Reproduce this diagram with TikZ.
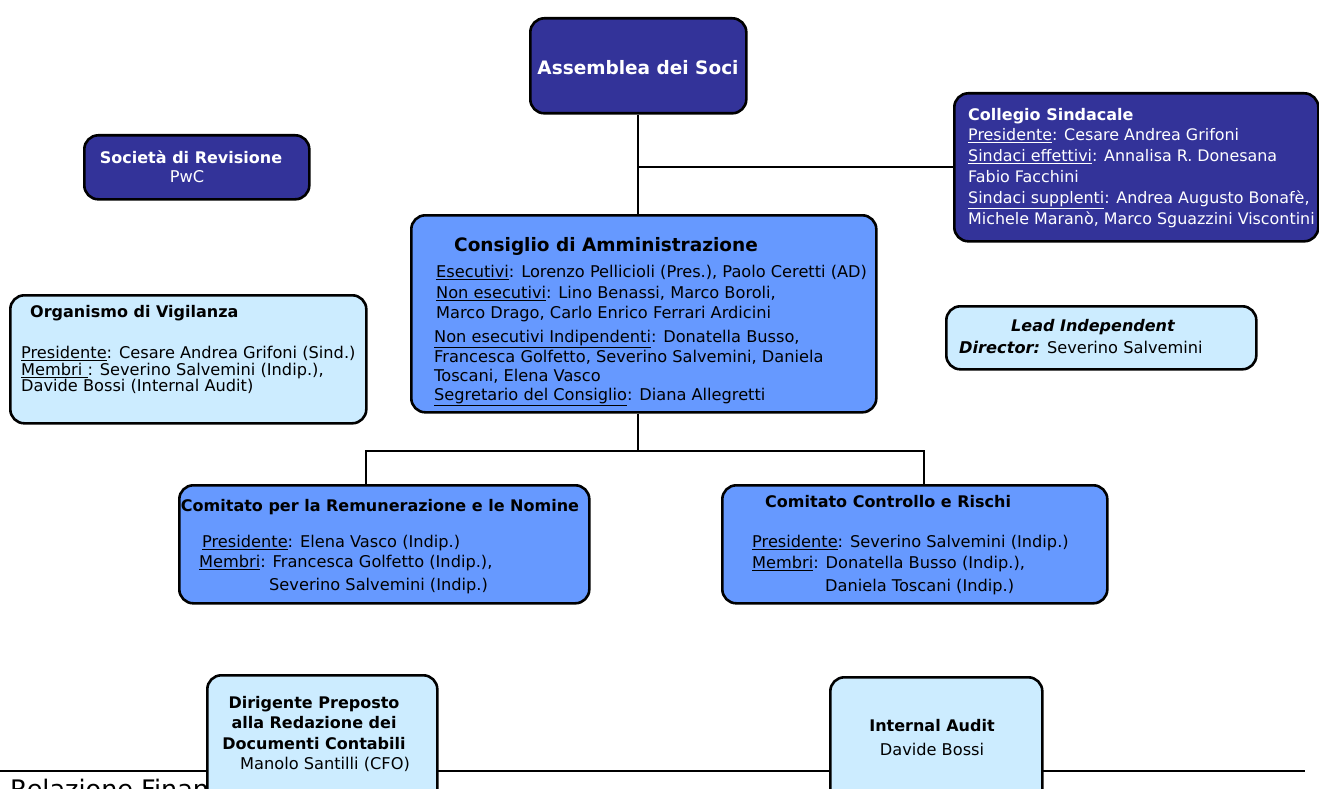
\documentclass[tikz,border=0pt]{standalone}
\usepackage{fontspec}
\setmainfont{DejaVu Sans}
\usetikzlibrary{calc}

\definecolor{bluscuro}{HTML}{333399}
\definecolor{blumedio}{HTML}{6699FF}
\definecolor{azzurro}{HTML}{CCECFF}

\tikzset{
	riquadro/.style={draw=black, line width=2.6pt, rounded corners=14pt, inner sep=0pt, anchor=north west},
	scuro/.style={riquadro, fill=bluscuro},
	medio/.style={riquadro, fill=blumedio},
	chiaro/.style={riquadro, fill=azzurro},
	testo/.style={inner sep=0pt, align=left, font=\fontsize{16.2}{20}\selectfont},
	titolo/.style={inner sep=0pt, font=\fontsize{16}{20}\selectfont\bfseries},
	grande/.style={inner sep=0pt, font=\fontsize{18.5}{22}\selectfont\bfseries},
	legame/.style={line width=1.8pt}
}

\begin{document}
\begin{tikzpicture}[x=1pt,y=-1pt]
	\useasboundingbox (0,0) rectangle (1319,789);
	% riga a pie' di pagina
	\draw[line width=1.6pt] (0,771) -- (1305,771);
	\node[anchor=base west, inner sep=0pt, font=\fontsize{25.5}{30}\selectfont] (relfin) at (10,798) {Relazione Finanziaria};

	% riquadri
	\node[scuro, minimum width=216pt, minimum height=95pt] (ads) at (529,17) {};
	\node[scuro, minimum width=364pt, minimum height=148pt] (cs) at (953,92) {};
	\node[scuro, minimum width=225pt, minimum height=64pt] (sdr) at (83,134) {};
	\node[medio, minimum width=465pt, minimum height=197pt] (cda) at (410,214) {};
	\node[chiaro, minimum width=356pt, minimum height=128pt] (odv) at (9,294) {};
	\node[chiaro, minimum width=310pt, minimum height=63pt] (lid) at (945,305) {};
	\node[medio, minimum width=410pt, minimum height=118pt] (crn) at (178,484) {};
	\node[medio, minimum width=385pt, minimum height=118pt] (ccr) at (721,484) {};
	\node[chiaro, minimum width=230pt, minimum height=135pt] (dp) at (206,674) {};
	\node[chiaro, minimum width=212pt, minimum height=135pt] (ia) at (829,676) {};

	% collegamenti
	\path (ads.south) ++(0,336) coordinate (nodo);
	\coordinate (crnin) at (366,484);
	\coordinate (ccrin) at (924,484);
	\draw[legame] (ads.south) -- (ads.south |- cda.north);
	\draw[legame] (ads.south |- cs.west) -- (cs.west);
	\draw[legame] (nodo |- cda.south) -- (nodo);
	\draw[legame] (crnin) |- (nodo) -| (ccrin);

	% testi
	\node[grande, text=white] (ads-t) at (638,68) {Assemblea dei Soci};

	\node[titolo, text=white, anchor=west] (cs-t) at (968,116) {Collegio Sindacale};
	\node[testo, text=white, anchor=north west, font=\fontsize{15.9}{21}\selectfont] (cs-b) at (968,128.5) {\underline{Presidente}: Cesare Andrea Grifoni\\
		\underline{Sindaci effettivi}: Annalisa R. Donesana\\
		Fabio Facchini\\
		\underline{Sindaci supplenti}: Andrea Augusto Bonafè,\\
		Michele Maranò, Marco Sguazzini Viscontini};

	\node[titolo, text=white] (sdr-t) at (191,157) {Società di Revisione};
	\node[testo, text=white] (sdr-b) at (187,177) {PwC};

	\node[grande] (cda-t) at (606,246) {Consiglio di Amministrazione};
	\node[testo, anchor=north west, font=\fontsize{16.2}{20.5}\selectfont] (cda-a) at (436,265.2) {\underline{Esecutivi}: Lorenzo Pellicioli (Pres.), Paolo Ceretti (AD)\\
		\underline{Non esecutivi}: Lino Benassi, Marco Boroli,\\
		Marco Drago, Carlo Enrico Ferrari Ardicini};
	\node[testo, anchor=north west, font=\fontsize{16.2}{19.4}\selectfont] (cda-b) at (434,330.2) {\underline{Non esecutivi Indipendenti}: Donatella Busso,\\
		Francesca Golfetto, Severino Salvemini, Daniela\\
		Toscani, Elena Vasco\\
		\underline{Segretario del Consiglio}: Diana Allegretti};

	\node[titolo, anchor=west] (odv-t) at (30,313) {Organismo di Vigilanza};
	\node[testo, anchor=north west, font=\fontsize{16.2}{16.5}\selectfont] (odv-b) at (21,346.2) {\underline{Presidente}: Cesare Andrea Grifoni (Sind.)\\
		\underline{Membri }: Severino Salvemini (Indip.),\\
		Davide Bossi (Internal Audit)};

	\node[titolo, font=\fontsize{16}{20}\selectfont\bfseries\itshape] (lid-t) at (1093,327) {Lead Independent};
	\node[testo, anchor=west] (lid-b) at (959,347) {\textbf{\textit{Director:}} Severino Salvemini};

	\node[titolo] (crn-t) at (380,507) {Comitato per la Remunerazione e le Nomine};
	\node[testo, anchor=west] (crn-p) at (202,543) {\underline{Presidente}: Elena Vasco (Indip.)};
	\node[testo, anchor=west] (crn-m) at (199,563) {\underline{Membri}: Francesca Golfetto (Indip.),};
	\node[testo, anchor=west] (crn-s) at (269,586) {Severino Salvemini (Indip.)};

	\node[titolo, anchor=west] (ccr-t) at (765,502) {Comitato Controllo e Rischi};
	\node[testo, anchor=west] (ccr-p) at (752,543) {\underline{Presidente}: Severino Salvemini (Indip.)};
	\node[testo, anchor=west] (ccr-m) at (752,564) {\underline{Membri}: Donatella Busso (Indip.),};
	\node[testo, anchor=west] (ccr-s) at (825,587) {Daniela Toscani (Indip.)};

	\node[titolo, align=center, font=\fontsize{16}{20.5}\selectfont\bfseries] (dp-t) at (314,723) {Dirigente Preposto\\alla Redazione dei\\Documenti Contabili};
	\node[testo] (dp-b) at (325,764) {Manolo Santilli (CFO)};

	\node[titolo] (ia-t) at (932,726) {Internal Audit};
	\node[testo] (ia-b) at (932,749) {Davide Bossi};
\end{tikzpicture}
\end{document}
